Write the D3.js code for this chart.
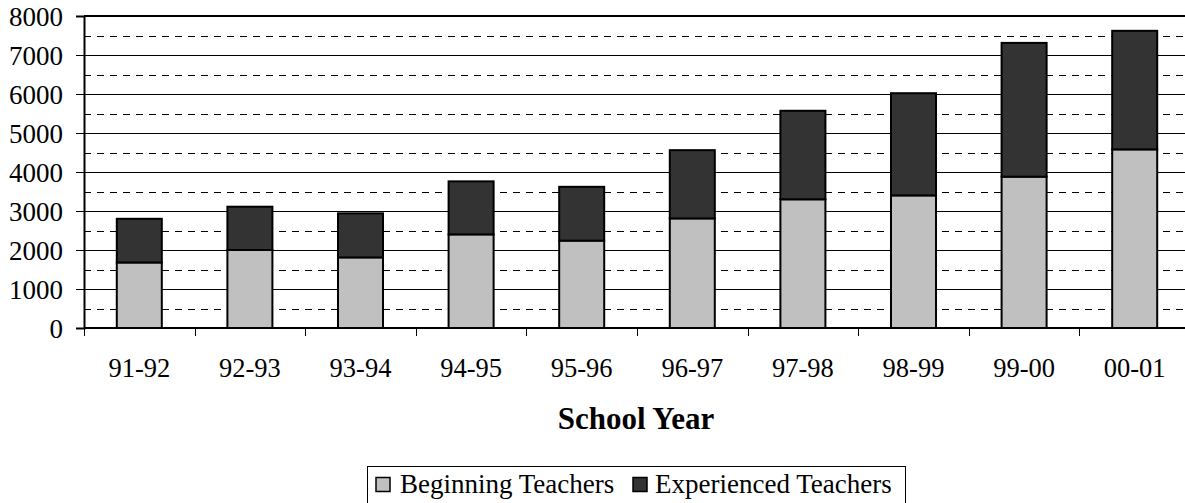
<!DOCTYPE html>
<html><head><meta charset="utf-8">
<script src="https://cdn.jsdelivr.net/npm/d3@7"></script>
<style>html,body{margin:0;padding:0;background:#fff;}svg{display:block;}</style>
</head><body>
<svg id="chart" width="1185" height="503"></svg>
<script>
const years = ["91-92","92-93","93-94","94-95","95-96","96-97","97-98","98-99","99-00","00-01"];
const beginning = [1680,2000,1810,2400,2240,2810,3300,3400,3880,4580];
const experienced = [1120,1110,1130,1360,1380,1750,2270,2620,3430,3040];
const seriesNames = ["Beginning Teachers","Experienced Teachers"];
const seriesColors = ["#c0c0c0","#333333"];
const yTicks = [0,1000,2000,3000,4000,5000,6000,7000,8000];
const yHalfTicks = [500,1500,2500,3500,4500,5500,6500,7500];
const xTitle = "School Year";

const svg = d3.select("#chart");
const L = 84, R = 1190, T = 16, B = 328;
const font = "'Liberation Serif','Times New Roman',serif";

const x = d3.scaleBand().domain(years).range([L, R]).paddingInner(0.593).paddingOuter(0.2965);
const y = d3.scaleLinear().domain([0, 8000]).range([B, T]);

const data = years.map((yr, i) => ({year: yr, Beginning: beginning[i], Experienced: experienced[i]}));
const stack = d3.stack().keys(["Beginning","Experienced"])(data);

// dashed half gridlines
svg.append("g").selectAll("line").data(yHalfTicks).join("line")
  .attr("x1", L).attr("x2", R)
  .attr("y1", d => Math.round(y(d)) + 0.5).attr("y2", d => Math.round(y(d)) + 0.5)
  .attr("stroke", "#000").attr("stroke-width", 1).attr("stroke-dasharray", "7,6");
// solid gridlines
svg.append("g").selectAll("line").data(yTicks.filter(d => d > 0 && d < 8000)).join("line")
  .attr("x1", L).attr("x2", R)
  .attr("y1", d => Math.round(y(d)) + 0.5).attr("y2", d => Math.round(y(d)) + 0.5)
  .attr("stroke", "#000").attr("stroke-width", 1);
// top border
svg.append("line").attr("x1", L).attr("x2", R).attr("y1", y(8000)).attr("y2", y(8000))
  .attr("stroke", "#000").attr("stroke-width", 2);

// bars
svg.append("g").selectAll("g").data(stack).join("g")
  .attr("fill", (d, i) => seriesColors[i])
  .selectAll("rect").data(d => d).join("rect")
  .attr("x", d => x(d.data.year))
  .attr("width", x.bandwidth())
  .attr("y", d => y(d[1]))
  .attr("height", d => y(d[0]) - y(d[1]))
  .attr("stroke", "#000").attr("stroke-width", 2);

// y axis
const yAxis = d3.axisLeft(y).tickValues(yTicks).tickSize(8).tickPadding(13).tickFormat(d3.format("d"));
const gy = svg.append("g").attr("transform", `translate(${L},0)`).call(yAxis);
gy.select(".domain").attr("stroke-width", 2);
gy.selectAll(".tick text").attr("font-family", font).attr("font-size", 27).attr("fill", "#000").attr("dy", "0.36em");
gy.selectAll(".tick line").attr("stroke", "#000");

// x axis
const xAxis = d3.axisBottom(x).tickSize(0).tickPadding(30);
const gx = svg.append("g").attr("transform", `translate(0,${B})`).call(xAxis);
gx.select(".domain").attr("stroke-width", 2).attr("d", `M${L},0H${R}`);
gx.selectAll(".tick text").attr("font-family", font).attr("font-size", 26.5).attr("fill", "#000");
// ticks at band boundaries
const bounds = years.map((d) => x(d) - x.step() * x.paddingInner() / 2);
gx.append("g").selectAll("line").data(bounds).join("line")
  .attr("x1", d => Math.round(d) + 0.5).attr("x2", d => Math.round(d) + 0.5)
  .attr("y1", 0).attr("y2", 8).attr("stroke", "#000").attr("stroke-width", 1);

// x title
svg.append("text").attr("x", (L + R) / 2 - 1).attr("y", 429).attr("text-anchor", "middle")
  .attr("font-family", font).attr("font-size", 31).attr("font-weight", "bold").text(xTitle);

// legend
const lg = svg.append("g");
lg.append("rect").attr("x", 367.5).attr("y", 466.5).attr("width", 538).attr("height", 60)
  .attr("fill", "#fff").attr("stroke", "#000").attr("stroke-width", 1);
const legX = [376, 633];
const legTextX = [400, 655];
const item = lg.selectAll("g.item").data(seriesNames).join("g").attr("class", "item");
item.append("rect").attr("x", (d, i) => legX[i]).attr("y", 477.5).attr("width", 14).attr("height", 14)
  .attr("fill", (d, i) => seriesColors[i]).attr("stroke", "#000").attr("stroke-width", 1.5);
item.append("text").attr("x", (d, i) => legTextX[i]).attr("y", 493).attr("font-family", font).attr("font-size", 27)
  .attr("fill", "#000").text(d => d);
</script>
</body></html>
